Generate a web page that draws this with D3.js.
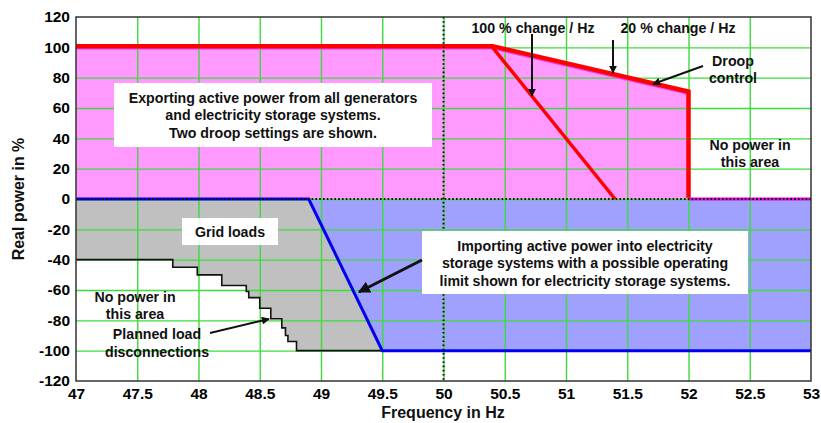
<!DOCTYPE html>
<meta charset="utf-8">
<style>
body{
    margin:0;
    background:#fff;
    font-family:"Liberation Sans", Arial, sans-serif;
}
.tick text{
    font-size:15.5px;
    font-weight:bold;
    fill:#000;
}
.grid line{
    stroke:#3ddc3d;
    stroke-width:1.4;
}
.grid .domain{
    display:none;
}
.label{
    font-weight:bold;
    font-size:14.2px;
    fill:#111;
    text-anchor:middle;
}
.axis-title{
    font-weight:bold;
    font-size:16px;
    fill:#111;
    text-anchor:middle;
}
</style>
<svg width="821" height="423"></svg>
<script src="https://cdn.jsdelivr.net/npm/d3@7"></script>
<script>

// frequency ticks (Hz) and power ticks (%)
var freqTicks = [47, 47.5, 48, 48.5, 49, 49.5, 50, 50.5, 51, 51.5, 52, 52.5, 53];
var powerTicks = [-120, -100, -80, -60, -40, -20, 0, 20, 40, 60, 80, 100, 120];

// export limit with 20 %/Hz droop, and the steeper 100 %/Hz droop
var exportLimit = [[47, 100], [50.4, 100], [52, 70], [52, 0]];
var droop100 = [[50.4, 100], [51.4, 0]];

// storage import limit
var storageLimit = [[47, 0], [48.9, 0], [49.5, -100], [53, -100]];

// planned load disconnection steps
var loadSteps = [
    [47, -40], [47.79, -40], [47.79, -45], [47.99, -45], [47.99, -50],
    [48.19, -50], [48.19, -57], [48.39, -57], [48.39, -61], [48.41, -61],
    [48.41, -65], [48.5, -65], [48.5, -72], [48.59, -72], [48.59, -79],
    [48.68, -79], [48.68, -85], [48.71, -85], [48.71, -90], [48.73, -90],
    [48.73, -94], [48.8, -94], [48.8, -100], [49.5, -100]
];

var svg = d3.select('svg');
var margin = {top:17, left:76, right:10, bottom:42};
var width = 811 - margin.left;
var height = 381 - margin.top;

var x = d3.scaleLinear().domain([47, 53]).range([0, width]);
var y = d3.scaleLinear().domain([-120, 120]).range([height, 0]);

var g = svg.append('g').attr('transform', 'translate(' + margin.left + ',' + margin.top + ')');

var line = d3.line().x(function(d){ return x(d[0]); }).y(function(d){ return y(d[1]); });

// areas
var exportArea = [[47, 0]].concat(exportLimit);
g.append('path')
    .datum(exportArea)
    .attr('d', line)
    .attr('fill', '#ff99ff');

var gridArea = [[47, 0], [48.9, 0], [49.5, -100]].concat(loadSteps.slice(0, -1).reverse());
g.append('path')
    .datum(gridArea)
    .attr('d', line)
    .attr('fill', '#c0c0c0');

var storeArea = [[48.9, 0], [53, 0], [53, -100], [49.5, -100]];
g.append('path')
    .datum(storeArea)
    .attr('d', line)
    .attr('fill', '#a0a0ff');

// grid
g.append('g')
    .attr('class', 'grid')
    .attr('transform', 'translate(0,' + height + ')')
    .call(d3.axisBottom(x).tickValues(freqTicks.slice(1, -1)).tickSize(-height).tickFormat(''));
g.append('g')
    .attr('class', 'grid')
    .call(d3.axisLeft(y).tickValues(powerTicks.slice(1, -1)).tickSize(-width).tickFormat(''));

// axes labels
var xAxis = g.append('g')
    .attr('transform', 'translate(0,' + height + ')')
    .call(d3.axisBottom(x).tickValues(freqTicks).tickSize(0).tickPadding(7).tickFormat(d3.format('')));
xAxis.select('.domain').remove();
var yAxis = g.append('g')
    .call(d3.axisLeft(y).tickValues(powerTicks).tickSize(0).tickPadding(6).tickFormat(function(d){ return d < 0 ? '-' + Math.abs(d) : d; }));
yAxis.select('.domain').remove();

// lines
g.append('path')
    .datum(loadSteps)
    .attr('d', line)
    .attr('fill', 'none')
    .attr('stroke', '#111')
    .attr('stroke-width', 1.6);

g.append('path')
    .datum(storageLimit)
    .attr('d', line)
    .attr('fill', 'none')
    .attr('stroke', '#0000ee')
    .attr('stroke-width', 3);

g.append('path')
    .datum([[52, 0], [53, 0]])
    .attr('d', line)
    .attr('stroke', '#ee00ee')
    .attr('stroke-width', 3);

g.append('path')
    .datum(exportLimit.slice(0, 3))
    .attr('d', line)
    .attr('transform', 'translate(0,1.2)')
    .attr('fill', 'none')
    .attr('stroke', '#ee44ee')
    .attr('stroke-width', 2);

g.append('path')
    .datum(exportLimit)
    .attr('d', line)
    .attr('transform', 'translate(0,-1.2)')
    .attr('fill', 'none')
    .attr('stroke', '#ff0000')
    .attr('stroke-width', 4.5);

g.append('path')
    .datum(droop100)
    .attr('d', line)
    .attr('fill', 'none')
    .attr('stroke', '#ff0000')
    .attr('stroke-width', 3.5);

// dotted reference lines
g.append('line')
    .attr('x1', x(47)).attr('x2', x(53))
    .attr('y1', y(0)).attr('y2', y(0))
    .attr('stroke', '#111')
    .attr('stroke-width', 2)
    .attr('stroke-dasharray', '1.6,2.2');
g.append('line')
    .attr('x1', x(50)).attr('x2', x(50))
    .attr('y1', 0).attr('y2', height)
    .attr('stroke', '#111')
    .attr('stroke-width', 2)
    .attr('stroke-dasharray', '1.6,2.6');

// frame
g.append('rect')
    .attr('width', width).attr('height', height)
    .attr('fill', 'none')
    .attr('stroke', '#333')
    .attr('stroke-width', 1.5);

// arrow marker
svg.append('defs').append('marker')
    .attr('id', 'head')
    .attr('viewBox', '0 0 10 10')
    .attr('refX', 9).attr('refY', 5)
    .attr('markerWidth', 4).attr('markerHeight', 4)
    .attr('markerUnits', 'strokeWidth')
    .attr('orient', 'auto')
    .append('path')
    .attr('d', 'M0,0L10,5L0,10z')
    .attr('fill', '#111');

function arrow(x1, y1, x2, y2, w){
    svg.append('line')
        .attr('x1', x1).attr('y1', y1).attr('x2', x2).attr('y2', y2)
        .attr('stroke', '#111')
        .attr('stroke-width', w || 2)
        .attr('marker-end', 'url(#head)');
}

function box(x0, y0, x1, y1){
    svg.append('rect')
        .attr('x', x0).attr('y', y0)
        .attr('width', x1 - x0).attr('height', y1 - y0)
        .attr('fill', '#fff');
}

function label(cx, cy, lines, lh){
    var t = svg.append('text').attr('class', 'label');
    lines.forEach(function(s, i){
        t.append('tspan')
            .attr('x', cx)
            .attr('y', cy + i * lh)
            .attr('dy', '0.35em')
            .text(s);
    });
}

box(114, 83, 432, 147);
label(273, 98, ['Exporting active power from all generators', 'and electricity  storage systems.', 'Two droop settings are shown.'], 17.5);

box(182, 218, 278, 245);
label(230, 232, ['Grid loads'], 17);

box(422, 231, 748, 294);
label(585, 246, ['Importing active power into electricity', 'storage systems with a possible operating', 'limit shown for electricity  storage systems.'], 17.5);

label(135, 297, ['No power in', 'this area'], 17.5);
label(157, 334, ['Planned load', 'disconnections'], 18);
label(733, 61, ['Droop', 'control'], 17.5);
label(750, 145, ['No power in', 'this area'], 17.5);
label(533, 28, ['100 % change / Hz'], 17);
label(678, 28, ['20 % change / Hz'], 17);

arrow(532, 34, 532, 96, 2);
arrow(613, 40, 613, 73, 2);
arrow(703, 66, 653, 84, 2);
arrow(210, 333, 269, 319, 2);
arrow(422, 260, 359, 292, 3);

// axis titles
svg.append('text')
    .attr('class', 'axis-title')
    .attr('transform', 'translate(24,199) rotate(-90)')
    .text('Real power in %');
svg.append('text')
    .attr('class', 'axis-title')
    .attr('x', 443).attr('y', 418)
    .text('Frequency in Hz');

</script>
